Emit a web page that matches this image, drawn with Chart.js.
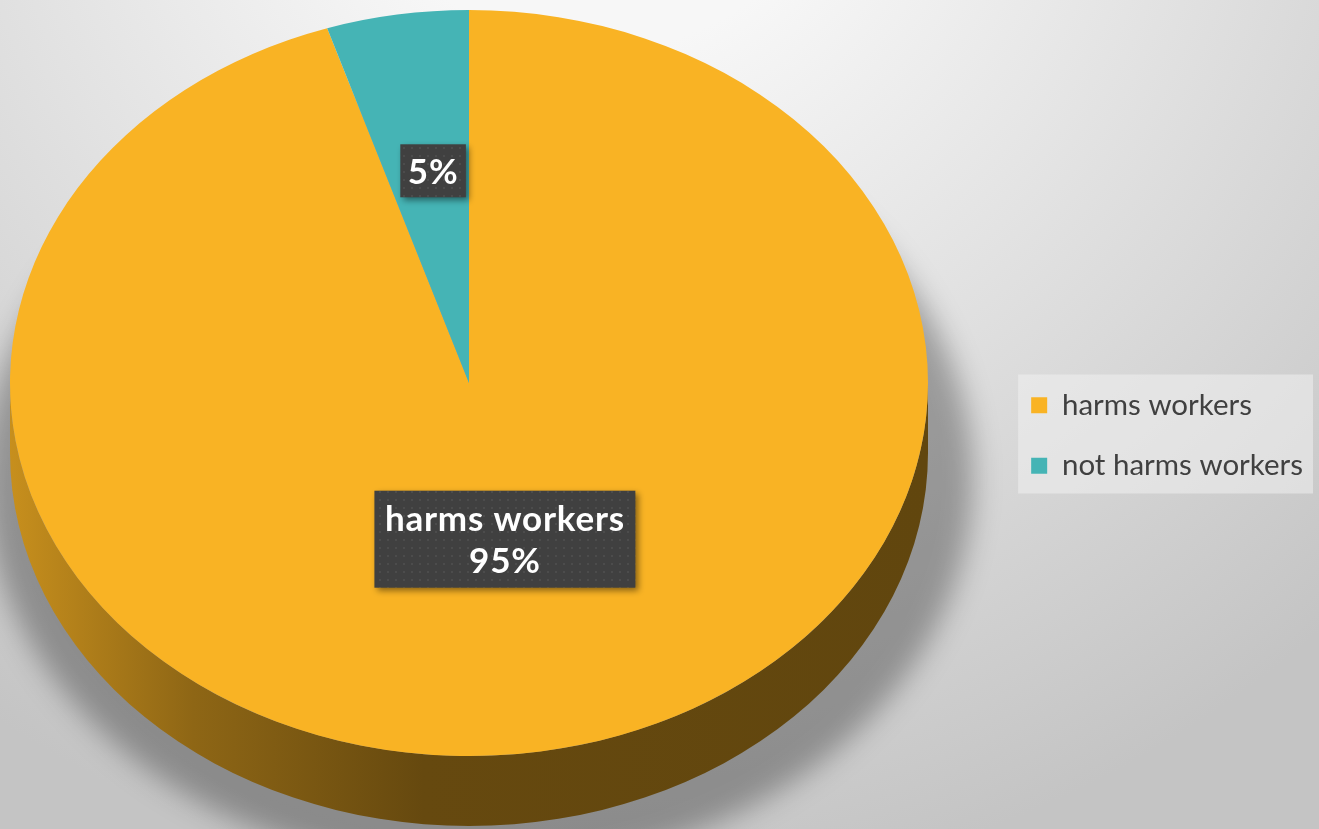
<!DOCTYPE html>
<html>
<head>
<meta charset="utf-8">
<title>harms workers</title>
<script src="https://cdn.jsdelivr.net/npm/chart.js@4.4.1/dist/chart.umd.min.js"></script>
<style>
  html, body { margin: 0; padding: 0; }
  body {
    width: 1319px;
    height: 829px;
    overflow: hidden;
    background: radial-gradient(circle at 600px -200px, #f7f7f7 250px, #c4c4c4 1100px);
  }
  #pieChart { display: block; }
</style>
</head>
<body>
<canvas id="pieChart" width="1319" height="829"></canvas>
<script>
// Дані діаграми
const categories = ['harms workers', 'not harms workers'];
const shares = [95, 5];
const sliceColors = ['#f9b324', '#45b4b5'];

// Геометрія нахиленого "3D" круга
const PIE = { cx: 469, cy: 383, rx: 459, ry: 373, depth: 70 };
const LABEL_FONT = 'bold 35px Lato';

function shade(hex, f) {
    const n = parseInt(hex.slice(1), 16);
    const r = Math.round(((n >> 16) & 255) * f);
    const g = Math.round(((n >> 8) & 255) * f);
    const b = Math.round((n & 255) * f);
    return `rgb(${r},${g},${b})`;
}

// Текстура для підписів (дрібні точки)
function dotPattern(ctx) {
    const c = document.createElement('canvas');
    c.width = 8; c.height = 8;
    const p = c.getContext('2d');
    p.fillStyle = '#404040';
    p.fillRect(0, 0, 8, 8);
    p.fillStyle = '#4c4c4c';
    p.fillRect(3, 3, 2, 2);
    return ctx.createPattern(c, 'repeat');
}

// Бічна стінка + тінь, потім масштабування дуг у еліпс
const tiltedPie = {
    id: 'tiltedPie',
    beforeDatasetsDraw(chart) {
        const ctx = chart.ctx;
        const arcs = chart.getDatasetMeta(0).data;
        const { cx, cy, rx, ry, depth } = PIE;

        // розмита тінь, трохи більша за сам круг
        ctx.save();
        ctx.filter = 'blur(14px)';
        ctx.fillStyle = 'rgba(0,0,0,0.3)';
        ctx.beginPath();
        ctx.ellipse(cx + 10, cy + depth + 25, rx + 35, ry + 20, 0, 0, Math.PI * 2);
        ctx.fill();
        ctx.restore();

        // бічна стінка тільки для передньої половини (кути 0..PI)
        arcs.forEach((arc, i) => {
            const p = arc.getProps(['startAngle', 'endAngle']);
            [0, Math.PI * 2].forEach(off => {
                const a0 = Math.max(p.startAngle, off);
                const a1 = Math.min(p.endAngle, off + Math.PI);
                if (a1 <= a0) return;
                const col = chart.data.datasets[0].backgroundColor[i];
                const g = ctx.createLinearGradient(cx - rx, 0, cx + rx, 0);
                g.addColorStop(0, shade(col, 0.8));
                g.addColorStop(0.2, shade(col, 0.57));
                g.addColorStop(0.45, shade(col, 0.41));
                g.addColorStop(1, shade(col, 0.39));
                ctx.beginPath();
                ctx.ellipse(cx, cy, rx, ry, 0, a0, a1);
                ctx.ellipse(cx, cy + depth, rx, ry, 0, a1, a0, true);
                ctx.closePath();
                ctx.fillStyle = g;
                ctx.fill();
            });
        });

        const a = arcs[0];
        const r = a.outerRadius;
        ctx.save();
        ctx.translate(cx, cy);
        ctx.scale(rx / r, ry / r);
        ctx.translate(-a.x, -a.y);
    },
    afterDatasetsDraw(chart) {
        chart.ctx.restore();
    }
};

// Підписи значень у темних прямокутниках
const valueLabels = {
    id: 'valueLabels',
    afterDatasetsDraw(chart) {
        const ctx = chart.ctx;
        const arcs = chart.getDatasetMeta(0).data;
        const vals = chart.data.datasets[0].data;
        const total = vals.reduce((s, v) => s + v, 0);
        const pattern = dotPattern(ctx);
        const { cx, cy, rx, ry } = PIE;

        arcs.forEach((arc, i) => {
            const p = arc.getProps(['startAngle', 'endAngle']);
            const mid = (p.startAngle + p.endAngle) / 2;
            const x = cx + rx * 0.5 * Math.cos(mid);
            const y = cy + ry * 0.5 * Math.sin(mid) - 28;
            const pct = Math.round(vals[i] / total * 100) + '%';
            const lines = vals[i] / total > 0.25 ? [chart.data.labels[i], pct] : [pct];

            ctx.save();
            ctx.font = LABEL_FONT;
            ctx.letterSpacing = '0.8px';
            const lh = 42;
            const w = Math.max(...lines.map(t => ctx.measureText(t).width)) + (lines.length > 1 ? 21 : 15);
            const h = lines.length * lh + (lines.length > 1 ? 13 : 11);
            ctx.shadowColor = 'rgba(0,0,0,0.45)';
            ctx.shadowBlur = 6;
            ctx.shadowOffsetX = 3;
            ctx.shadowOffsetY = 3;
            ctx.fillStyle = pattern;
            ctx.fillRect(x - w / 2, y - h / 2, w, h);
            ctx.shadowColor = 'transparent';
            ctx.fillStyle = '#ffffff';
            ctx.textAlign = 'center';
            ctx.textBaseline = 'middle';
            lines.forEach((t, k) => {
                ctx.fillText(t, x, y - (lines.length - 1) * lh / 2 + k * lh + 2);
            });
            ctx.restore();
        });
    }
};

// Світлий фон під легендою
const legendBg = {
    id: 'legendBg',
    beforeDraw(chart) {
        const boxes = chart.legend && chart.legend.legendHitBoxes;
        if (!boxes || !boxes.length) return;
        const l = Math.min(...boxes.map(b => b.left)) - 13;
        const t = Math.min(...boxes.map(b => b.top)) - 16;
        const r = Math.max(...boxes.map(b => b.left + b.width)) + 10;
        const btm = Math.max(...boxes.map(b => b.top + b.height)) + 13;
        const ctx = chart.ctx;
        ctx.save();
        ctx.fillStyle = 'rgba(240,240,240,0.55)';
        ctx.fillRect(l, t, r - l, btm - t);
        ctx.restore();
    }
};

const chart = new Chart(document.getElementById('pieChart'), {
    type: 'pie',
    data: {
        labels: categories,
        datasets: [{
            data: shares,
            backgroundColor: sliceColors,
            borderWidth: 0,
            clip: false
        }]
    },
    options: {
        responsive: false,
        animation: false,
        events: [],
        layout: { padding: { top: 60, bottom: 18, left: 10, right: 6 } },
        plugins: {
            legend: {
                position: 'right',
                labels: {
                    boxWidth: 16,
                    boxHeight: 16,
                    padding: 31,
                    color: '#404040',
                    font: { family: 'Lato', size: 29.5 }
                }
            },
            tooltip: { enabled: false }
        }
    },
    plugins: [legendBg, tiltedPie, valueLabels]
});
</script>
</body>
</html>
